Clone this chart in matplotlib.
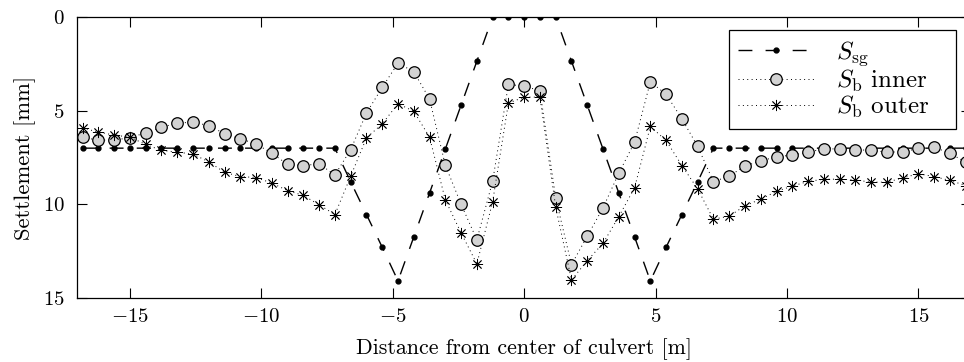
import numpy as np
import matplotlib.pyplot as plt

plt.rcParams['font.family'] = 'serif'
plt.rcParams['font.serif'] = ['cmr10']
plt.rcParams['mathtext.fontset'] = 'cm'
plt.rcParams['axes.formatter.use_mathtext'] = True
plt.rcParams['font.size'] = 15

# measurement positions [m]
dist = [-16.8, -16.2, -15.6, -15.0, -14.4, -13.8, -13.2, -12.6, -12.0, -11.4,
        -10.8, -10.2, -9.6, -9.0, -8.4, -7.8, -7.2, -6.6, -6.0, -5.4,
        -4.8, -4.2, -3.6, -3.0, -2.4, -1.8, -1.2, -0.6, 0.0, 0.6,
        1.2, 1.8, 2.4, 3.0, 3.6, 4.2, 4.8, 5.4, 6.0, 6.6,
        7.2, 7.8, 8.4, 9.0, 9.6, 10.2, 10.8, 11.4, 12.0, 12.6,
        13.2, 13.8, 14.4, 15.0, 15.6, 16.2, 16.8]

# settlements [mm]
s_sg = [7.0, 7.0, 7.0, 7.0, 7.0, 7.0, 7.0, 7.0, 7.0, 7.0,
        7.0, 7.0, 7.0, 7.0, 7.0, 7.0, 7.0, 8.8, 10.55, 12.3,
        14.1, 11.75, 9.4, 7.05, 4.7, 2.35, 0.0, 0.0, 0.0, 0.0,
        0.0, 2.35, 4.7, 7.05, 9.4, 11.75, 14.1, 12.3, 10.55, 8.8,
        7.0, 7.0, 7.0, 7.0, 7.0, 7.0, 7.0, 7.0, 7.0, 7.0,
        7.0, 7.0, 7.0, 7.0, 7.0, 7.0, 7.0]

s_inner = [6.42, 6.57, 6.57, 6.44, 6.18, 5.88, 5.66, 5.61, 5.79, 6.23,
           6.5, 6.77, 7.27, 7.87, 7.93, 7.84, 8.43, 7.08, 5.12, 3.75,
           2.45, 2.91, 4.37, 7.91, 10.0, 11.9, 8.77, 3.59, 3.68, 3.93,
           9.68, 13.23, 11.71, 10.19, 8.34, 6.68, 3.45, 4.12, 5.43, 6.91,
           8.79, 8.5, 7.95, 7.69, 7.45, 7.38, 7.21, 7.04, 7.04, 7.08,
           7.12, 7.21, 7.2, 7.01, 6.95, 7.28, 7.75]

s_outer = [5.92, 6.14, 6.3, 6.41, 6.8, 7.12, 7.21, 7.32, 7.73, 8.29,
           8.52, 8.57, 8.87, 9.27, 9.53, 10.03, 10.55, 8.5, 6.45, 5.7,
           4.62, 5.03, 6.41, 9.77, 11.53, 13.19, 9.87, 4.59, 4.27, 4.27,
           10.16, 14.05, 13.02, 12.09, 10.66, 9.12, 5.84, 6.59, 7.93, 9.18,
           10.8, 10.64, 10.08, 9.73, 9.31, 9.03, 8.78, 8.66, 8.66, 8.7,
           8.82, 8.82, 8.59, 8.37, 8.52, 8.73, 9.0]

fig = plt.figure(figsize=(9.64, 3.62), dpi=100)
ax = fig.add_axes([0.0802, 0.1776, 0.9271, 0.7746])

ax.plot(dist, s_sg, color='k', linewidth=1.0, dashes=(10, 9.5),
        marker='o', markersize=3.5, label=r'$S_\mathrm{sg}$')
ax.plot(dist, s_inner, color='k', linewidth=0.7, linestyle=(0, (1, 3.5)),
        marker='o', markersize=8.3, markerfacecolor='#d3d3d3',
        markeredgecolor='k', markeredgewidth=0.9, label=r'$S_\mathrm{b}$ inner')
ax.plot(dist, s_outer, color='k', linewidth=0.7, linestyle=(0, (1, 3.5)),
        marker=(8, 2, 0), markersize=8, markeredgewidth=0.6,
        label=r'$S_\mathrm{b}$ outer   ')

ax.set_xlim(-17, 17)
ax.set_ylim(15, 0)
ax.set_xticks([-15, -10, -5, 0, 5, 10, 15])
ax.set_yticks([0, 5, 10, 15])
ax.tick_params(direction='in', top=True, right=True, length=7, width=0.8)
ax.tick_params(axis='y', pad=9)
ax.tick_params(axis='x', pad=7.5)
for sp in ax.spines.values():
    sp.set_linewidth(0.9)

ax.set_xlabel('Distance from center of culvert [m]', fontsize=15.8, labelpad=8.5)
ax.set_ylabel('Settlement [mm]', fontsize=16.3, labelpad=5)

leg = ax.legend(loc='upper right', bbox_to_anchor=(0.9832, 0.9547),
                borderaxespad=0, numpoints=1, handlelength=3.1,
                handletextpad=0.85, borderpad=0.36, labelspacing=0.0,
                fancybox=False, framealpha=1, edgecolor='k', fontsize=18)
leg.get_frame().set_linewidth(0.9)

fig.savefig('out.png', dpi=100)
